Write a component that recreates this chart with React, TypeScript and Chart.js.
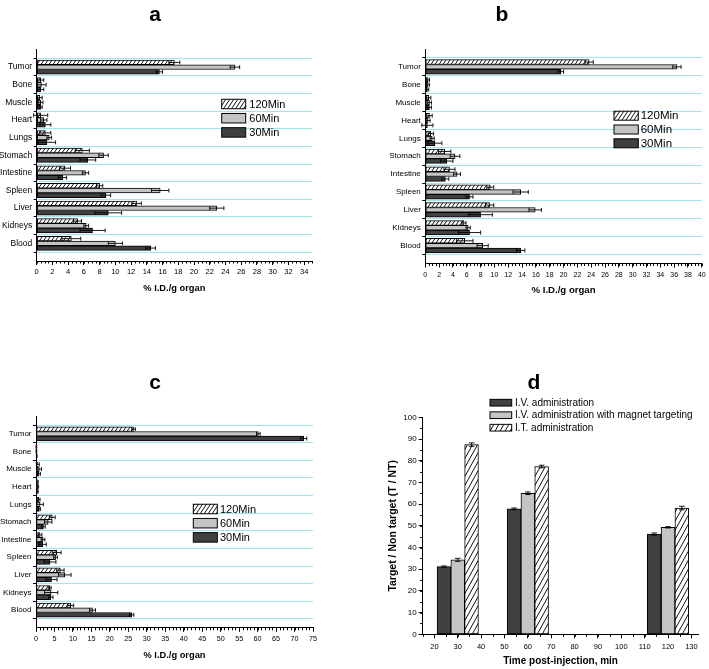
import React, { useEffect, useRef } from 'react';
import { Chart, registerables } from 'chart.js';

Chart.register(...registerables);

const FONT = "'Liberation Sans', Arial, Helvetica, sans-serif";
Chart.defaults.font.family = FONT;
Chart.defaults.color = '#000';

// ---------- data ----------
const ORGANS = ['Tumor', 'Bone', 'Muscle', 'Heart', 'Lungs', 'Stomach', 'Intestine', 'Spleen', 'Liver', 'Kidneys', 'Blood'];
const TIME_LABELS = ['120Min', '60Min', '30Min'];
const X_TITLE = '% I.D./g organ';

// panel a
const A_120 = [17.5, 0.5, 0.4, 0.5, 1.1, 5.8, 3.6, 8.0, 12.7, 5.2, 4.4];
const A_120_ERR = [0.7, 0.4, 0.3, 0.9, 0.7, 0.9, 0.7, 0.4, 0.6, 0.5, 1.2];
const A_60 = [25.2, 0.6, 0.5, 0.9, 1.6, 8.5, 6.2, 15.7, 22.9, 6.3, 10.0];
const A_60_ERR = [0.6, 0.6, 0.3, 0.4, 0.3, 0.6, 0.4, 1.1, 0.9, 0.3, 0.9];
const A_30 = [15.6, 0.5, 0.5, 1.1, 1.3, 6.5, 3.3, 8.8, 9.1, 7.1, 14.5];
const A_30_ERR = [0.4, 0.4, 0.2, 0.7, 1.1, 1.0, 0.5, 0.6, 1.7, 1.6, 0.6];

// panel b
const B_120 = [23.7, 0.4, 0.5, 0.6, 0.8, 2.8, 3.5, 9.4, 9.3, 5.6, 5.7];
const B_120_ERR = [0.6, 0.2, 0.3, 0.4, 0.4, 0.9, 0.8, 0.5, 0.6, 0.3, 1.2];
const B_60 = [36.4, 0.4, 0.6, 0.4, 1.0, 4.3, 4.6, 13.8, 15.9, 6.2, 8.3];
const B_60_ERR = [0.6, 0.2, 0.3, 0.3, 0.3, 0.7, 0.5, 1.1, 0.9, 0.3, 0.8];
const B_30 = [19.6, 0.3, 0.6, 0.3, 1.4, 3.1, 2.9, 6.4, 8.0, 6.4, 13.8];
const B_30_ERR = [0.4, 0.2, 0.3, 0.8, 1.0, 0.9, 0.5, 0.5, 1.7, 1.6, 0.6];

// panel c
const C_120 = [26.4, 0.1, 0.5, 0.4, 0.8, 4.4, 1.1, 5.6, 6.6, 3.7, 9.4];
const C_120_ERR = [0.5, 0.1, 0.4, 0.2, 0.3, 0.8, 0.5, 1.2, 1.0, 0.4, 0.8];
const C_60 = [60.2, 0.1, 0.9, 0.5, 1.1, 3.3, 1.9, 5.3, 7.8, 4.1, 15.3];
const C_60_ERR = [0.5, 0.1, 0.6, 0.2, 0.9, 1.0, 0.5, 0.5, 1.7, 1.8, 0.8];
const C_30 = [72.5, 0.2, 0.8, 0.4, 0.9, 2.0, 1.8, 3.8, 4.2, 4.0, 25.9];
const C_30_ERR = [0.8, 0.1, 0.4, 0.2, 0.3, 0.5, 1.0, 1.6, 1.5, 0.6, 0.6];

// panel d
const D_TIMES = [30, 60, 120];
const D_LABELS = ['I.V. administration', 'I.V. administration with magnet targeting', 'I.T. administration'];
const D_IV = [31.2, 57.8, 46.2];
const D_IV_ERR = [0.3, 0.4, 0.5];
const D_MAG = [34.3, 65.0, 49.3];
const D_MAG_ERR = [0.7, 0.6, 0.3];
const D_IT = [87.4, 77.3, 58.2];
const D_IT_ERR = [0.8, 0.6, 0.8];
const D_X_TITLE = 'Time post-injection, min';
const D_Y_TITLE = 'Target / Non target (T / NT)';

// ---------- styles ----------
const DARK = '#404040';
const GRAY = '#c4c4c4';
const CYAN = '#a2e3ec';
const NONE = 'rgba(0,0,0,0)';

function makeHatch(w: number, h: number, lw: number) {
  const c = document.createElement('canvas');
  c.width = w;
  c.height = h;
  const g = c.getContext('2d')!;
  g.fillStyle = '#fff';
  g.fillRect(0, 0, w, h);
  g.strokeStyle = '#111';
  g.lineWidth = lw;
  g.beginPath();
  for (const off of [-w, 0, w]) {
    g.moveTo(off, h);
    g.lineTo(off + w, 0);
  }
  g.stroke();
  return g.createPattern(c, 'repeat')!;
}

const decorPlugin = {
  id: 'decor',
  afterDatasetsDraw(chart: any) {
    const ctx = chart.ctx;
    const horizontal = chart.options.indexAxis === 'y';
    const vScale = horizontal ? chart.scales.x : chart.scales.y;
    chart.data.datasets.forEach((ds: any, di: number) => {
      const errs = ds.errors;
      if (!errs) return;
      const meta = chart.getDatasetMeta(di);
      meta.data.forEach((el: any, i: number) => {
        const raw = ds.data[i];
        const v = horizontal ? raw.x : raw.y;
        const e = errs[i];
        const lo = vScale.getPixelForValue(v - e);
        const hi = vScale.getPixelForValue(v + e);
        const p = el.getProps(['x', 'y', 'width', 'height'], true);
        ctx.save();
        ctx.strokeStyle = '#000';
        ctx.lineWidth = 0.9;
        ctx.beginPath();
        if (horizontal) {
          const c = p.y;
          const hh = p.height * 0.42;
          ctx.moveTo(lo, c);
          ctx.lineTo(hi, c);
          ctx.moveTo(lo, c - hh);
          ctx.lineTo(lo, c + hh);
          ctx.moveTo(hi, c - hh);
          ctx.lineTo(hi, c + hh);
        } else {
          const c = p.x;
          const hw = Math.min(p.width * 0.2, 3);
          ctx.moveTo(c, lo);
          ctx.lineTo(c, hi);
          ctx.moveTo(c - hw, lo);
          ctx.lineTo(c + hw, lo);
          ctx.moveTo(c - hw, hi);
          ctx.lineTo(c + hw, hi);
        }
        ctx.stroke();
        ctx.restore();
      });
    });
  },
  afterDraw(chart: any, _args: any, opts: any) {
    const ctx = chart.ctx;
    const ca = chart.chartArea;
    const m = opts.minor;
    if (m) {
      ctx.save();
      ctx.strokeStyle = '#000';
      ctx.lineWidth = 1;
      ctx.beginPath();
      if (m.x) {
        const s = chart.scales.x;
        const k0 = Math.ceil(s.min / m.x);
        const k1 = Math.floor(s.max / m.x + 1e-9);
        for (let k = k0; k <= k1; k++) {
          const px = Math.round(s.getPixelForValue(k * m.x)) + 0.5;
          ctx.moveTo(px, ca.bottom);
          ctx.lineTo(px, ca.bottom + 2.5);
        }
      }
      if (m.y) {
        const s = chart.scales.y;
        const k0 = Math.ceil(s.min / m.y);
        const k1 = Math.floor(s.max / m.y + 1e-9);
        for (let k = k0; k <= k1; k++) {
          const py = Math.round(s.getPixelForValue(k * m.y)) + 0.5;
          ctx.moveTo(ca.left, py);
          ctx.lineTo(ca.left - 2.5, py);
        }
      }
      ctx.stroke();
      ctx.restore();
    }
    const L = opts.legend;
    if (L) {
      ctx.save();
      const x0 = ca.left + L.dx;
      ctx.font = `${L.font}px ${FONT}`;
      ctx.textBaseline = 'middle';
      ctx.textAlign = 'left';
      chart.data.datasets.forEach((ds: any, i: number) => {
        const cy = ca.top + L.dy + i * L.rowH;
        ctx.fillStyle = ds.backgroundColor;
        ctx.fillRect(x0, cy - L.boxH / 2, L.boxW, L.boxH);
        ctx.strokeStyle = '#000';
        ctx.lineWidth = 1;
        ctx.strokeRect(x0, cy - L.boxH / 2, L.boxW, L.boxH);
        ctx.fillStyle = '#000';
        ctx.fillText(ds.label, x0 + L.boxW + L.gap, cy + 0.5);
      });
      ctx.restore();
    }
  },
};

const isHalf = (v: number) => Math.abs(v - Math.round(v)) > 0.25;

function organConfig(p: any, hatch: CanvasPattern) {
  const pts = (vals: number[]) => vals.map((v, i) => ({ x: v, y: i }));
  const barStyle = { borderColor: '#000', borderWidth: 1, borderSkipped: false };
  return {
    type: 'bar',
    data: {
      datasets: [
        { label: TIME_LABELS[0], data: pts(p.v120), errors: p.e120, backgroundColor: hatch, ...barStyle },
        { label: TIME_LABELS[1], data: pts(p.v60), errors: p.e60, backgroundColor: GRAY, ...barStyle },
        { label: TIME_LABELS[2], data: pts(p.v30), errors: p.e30, backgroundColor: DARK, ...barStyle },
      ],
    },
    options: {
      indexAxis: 'y',
      responsive: false,
      animation: false,
      events: [],
      layout: { padding: { left: 0, top: p.padTop, right: p.padRight, bottom: p.padBottom } },
      datasets: { bar: { barThickness: p.barThickness } },
      plugins: {
        legend: { display: false },
        tooltip: { enabled: false },
        decor: { minor: { x: p.xMinor }, legend: p.legend },
      },
      scales: {
        x: {
          type: 'linear',
          min: 0,
          max: p.xMax,
          offset: false,
          ticks: { stepSize: p.xStep, includeBounds: false, autoSkip: false, maxRotation: 0, color: '#000', font: { size: p.xFont }, padding: p.tickPad },
          grid: { display: true, drawOnChartArea: false, color: '#000', tickLength: 4, offset: false },
          border: { display: true, color: '#000', width: 1 },
          title: { display: true, text: X_TITLE, color: '#000', font: { size: p.titleFont, weight: 'bold' }, padding: { top: 4, bottom: 4 } },
          afterFit: (s: any) => { s.height = p.xHeight; },
        },
        y: {
          type: 'linear',
          min: -1,
          max: ORGANS.length,
          reverse: true,
          offset: false,
          afterBuildTicks: (s: any) => {
            const t: any[] = [];
            ORGANS.forEach((_, i) => { t.push({ value: i - 0.5 }); t.push({ value: i }); });
            t.push({ value: ORGANS.length - 0.5 });
            s.ticks = t;
          },
          ticks: {
            autoSkip: false,
            color: '#000',
            font: { size: p.yFont },
            padding: 1.5,
            callback: (v: number) => (isHalf(v) ? '' : ORGANS[Math.round(v)]),
          },
          grid: {
            offset: false,
            lineWidth: 1,
            tickLength: 3,
            color: (c: any) => (c.tick && isHalf(c.tick.value) ? CYAN : NONE),
            tickColor: (c: any) => (c.tick && isHalf(c.tick.value) ? '#000' : NONE),
          },
          border: { display: true, color: '#000', width: 1 },
          afterFit: (s: any) => { s.width = p.yWidth; },
        },
      },
    },
    plugins: [decorPlugin],
  };
}

function dConfig(hatch: CanvasPattern) {
  const pts = (vals: number[]) => vals.map((v, i) => ({ x: D_TIMES[i], y: v }));
  const barStyle = { borderColor: '#000', borderWidth: 1, borderSkipped: false };
  return {
    type: 'bar',
    data: {
      datasets: [
        { label: D_LABELS[0], data: pts(D_IV), errors: D_IV_ERR, backgroundColor: DARK, ...barStyle },
        { label: D_LABELS[1], data: pts(D_MAG), errors: D_MAG_ERR, backgroundColor: GRAY, ...barStyle },
        { label: D_LABELS[2], data: pts(D_IT), errors: D_IT_ERR, backgroundColor: hatch, ...barStyle },
      ],
    },
    options: {
      responsive: false,
      animation: false,
      events: [],
      layout: { padding: { left: 29, top: 83.3, right: 10.6, bottom: 0.3 } },
      datasets: { bar: { barThickness: 13.8 } },
      plugins: {
        legend: { display: false },
        tooltip: { enabled: false },
        decor: {
          minor: { x: 5, y: 5 },
          legend: { dx: 67.3, dy: -14.6, boxW: 21.7, boxH: 6.7, rowH: 12.5, gap: 3.3, font: 10 },
        },
      },
      scales: {
        x: {
          type: 'linear',
          min: 15,
          max: 133,
          offset: false,
          ticks: { stepSize: 10, includeBounds: false, autoSkip: false, maxRotation: 0, color: '#000', font: { size: 7.5 }, padding: 3.9 },
          grid: { display: true, drawOnChartArea: false, color: '#000', tickLength: 4, offset: false },
          border: { display: true, color: '#000', width: 1 },
          title: { display: true, text: D_X_TITLE, color: '#000', font: { size: 10, weight: 'bold' }, padding: { top: 4, bottom: 1 } },
          afterFit: (s: any) => { s.height = 34.4; },
        },
        y: {
          type: 'linear',
          min: 0,
          max: 100,
          ticks: { stepSize: 10, autoSkip: false, color: '#000', font: { size: 8 }, padding: 2 },
          grid: { display: true, drawOnChartArea: false, color: '#000', tickLength: 4 },
          border: { display: true, color: '#000', width: 1 },
          title: { display: true, text: D_Y_TITLE, color: '#000', font: { size: 10.5, weight: 'bold' }, padding: { top: 4, bottom: 4 } },
          afterFit: (s: any) => { s.width = 39.7; },
        },
      },
    },
    plugins: [decorPlugin],
  };
}

const PANEL_A = {
  v120: A_120, e120: A_120_ERR, v60: A_60, e60: A_60_ERR, v30: A_30, e30: A_30_ERR,
  xMax: 35, xStep: 2, xMinor: 0.5, xFont: 7.5, yFont: 8.5, titleFont: 9.3, tickPad: 2.2,
  yWidth: 36.7, padTop: 49.5, padRight: 42, padBottom: 36.3, xHeight: 36.7, barThickness: 4.7,
  legend: { dx: 185, dy: 54.5, boxW: 24, boxH: 9.5, rowH: 14.2, gap: 3.6, font: 11 },
};
const PANEL_B = {
  v120: B_120, e120: B_120_ERR, v60: B_60, e60: B_60_ERR, v30: B_30, e30: B_30_ERR,
  xMax: 40, xStep: 2, xMinor: 0.5, xFont: 7, yFont: 8, titleFont: 9.6, tickPad: 3.3,
  yWidth: 71.3, padTop: 49, padRight: 5.3, padBottom: 33.6, xHeight: 36.9, barThickness: 4.8,
  legend: { dx: 188.7, dy: 66.7, boxW: 24.3, boxH: 9, rowH: 13.8, gap: 2.4, font: 11.5 },
};
const PANEL_C = {
  v120: C_120, e120: C_120_ERR, v60: C_60, e60: C_60_ERR, v30: C_30, e30: C_30_ERR,
  xMax: 75, xStep: 5, xMinor: 1, xFont: 7.2, yFont: 8, titleFont: 9.3, tickPad: 3.2,
  yWidth: 36, padTop: 82.2, padRight: 41, padBottom: 3.6, xHeight: 37.6, barThickness: 4.7,
  legend: { dx: 157.3, dy: 92.8, boxW: 24, boxH: 9.5, rowH: 14.2, gap: 2.7, font: 11 },
};

const letterStyle = (cx: number, top: number): React.CSSProperties => ({
  position: 'absolute',
  left: cx,
  top,
  transform: 'translateX(-50%)',
  font: `bold 21px ${FONT}`,
  lineHeight: '21px',
  color: '#000',
});

export default function App() {
  const a = useRef<HTMLCanvasElement>(null);
  const b = useRef<HTMLCanvasElement>(null);
  const c = useRef<HTMLCanvasElement>(null);
  const d = useRef<HTMLCanvasElement>(null);

  useEffect(() => {
    const hatchH = makeHatch(4, 6, 1);
    const hatchV = makeHatch(5, 9, 1);
    const charts = [
      new Chart(a.current!, organConfig(PANEL_A, hatchH) as any),
      new Chart(b.current!, organConfig(PANEL_B, hatchH) as any),
      new Chart(c.current!, organConfig(PANEL_C, hatchH) as any),
      new Chart(d.current!, dConfig(hatchV) as any),
    ];
    return () => charts.forEach((ch) => ch.destroy());
  }, []);

  return (
    <div style={{ position: 'fixed', left: 0, top: 0, width: 709, height: 669, overflow: 'hidden', background: '#fff' }}>
      <canvas ref={a} width={354} height={334} style={{ position: 'absolute', left: 0, top: 0 }} />
      <canvas ref={b} width={355} height={334} style={{ position: 'absolute', left: 354, top: 0 }} />
      <canvas ref={c} width={354} height={335} style={{ position: 'absolute', left: 0, top: 334 }} />
      <canvas ref={d} width={355} height={335} style={{ position: 'absolute', left: 354, top: 334 }} />
      <div style={letterStyle(155, 3)}>a</div>
      <div style={letterStyle(502, 3)}>b</div>
      <div style={letterStyle(155, 371)}>c</div>
      <div style={letterStyle(534, 371)}>d</div>
    </div>
  );
}
